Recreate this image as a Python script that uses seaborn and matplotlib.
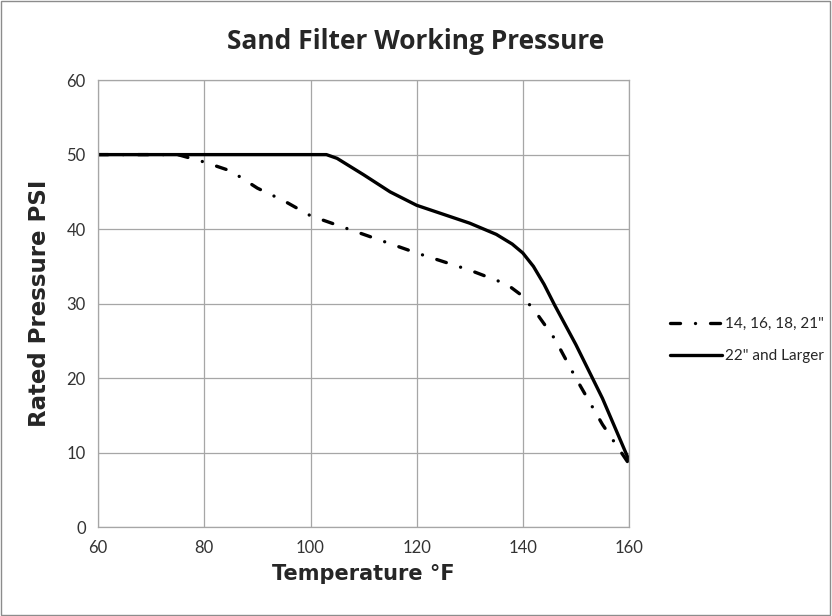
import matplotlib
matplotlib.use("Agg")
import pandas as pd
import matplotlib.pyplot as plt
import seaborn as sns
from matplotlib.patches import Rectangle

# 값은 그림에서 읽은 추정치
temp_small = [60, 70, 75, 80, 85, 90, 95, 100, 110, 120, 130, 137, 140, 143, 146, 150, 155, 160]
psi_small = [50, 50, 50, 49.0, 47.8, 45.5, 43.8, 41.8, 39.3, 36.8, 34.5, 32.6, 31.0, 28.3, 25.3, 20.0, 13.8, 8.5]

temp_large = [60, 70, 80, 90, 100, 103, 105, 110, 115, 120, 125, 130, 135, 138, 140, 142, 144, 146, 150, 155, 160]
psi_large = [50, 50, 50, 50, 50, 50, 49.5, 47.3, 45.0, 43.2, 42.0, 40.8, 39.3, 38.0, 36.8, 35.0, 32.6, 29.8, 24.5, 17.3, 9.0]

labels = ['14, 16, 18, 21"', '22" and Larger']

sns.set_style("white")
plt.rcParams["font.family"] = ["Lato", "DejaVu Sans"]

fig = plt.figure(figsize=(8.32, 6.16), dpi=100)
ax = fig.add_axes([0.118, 0.144, 0.638, 0.726])

df_small = pd.DataFrame({"temp": temp_small, "psi": psi_small})
df_large = pd.DataFrame({"temp": temp_large, "psi": psi_large})

sns.lineplot(data=df_small, x="temp", y="psi", ax=ax, color="black", lw=2.4,
             linestyle=(0, (3, 4.5, 0.01, 4.5)), label=labels[0])
sns.lineplot(data=df_large, x="temp", y="psi", ax=ax, color="black", lw=2.4,
             label=labels[1])
for ln in ax.get_lines():
    ln.set_dash_capstyle("round")

ax.set_xlim(60, 160)
ax.set_ylim(0, 60)
ax.set_xticks(range(60, 161, 20))
ax.set_yticks(range(0, 61, 10))
ax.grid(True, color="#a6a6a6", lw=0.9)
for s in ax.spines.values():
    s.set_color("#a6a6a6")
    s.set_linewidth(0.9)
ax.tick_params(colors="#404040", labelsize=12, length=0, pad=9)
for t in ax.get_xticklabels() + ax.get_yticklabels():
    t.set_color("#333333")

ax.set_xlabel("Temperature °F", family="DejaVu Sans", fontsize=15, fontweight="heavy", labelpad=6)
ax.set_ylabel("Rated Pressure PSI", family="DejaVu Sans", fontsize=16.5, fontweight="heavy", labelpad=11)

fig.suptitle("Sand Filter Working Pressure", x=0.5, y=0.955, fontsize=19,
             fontweight="bold", family=["Open Sans", "DejaVu Sans"])

h, l = ax.get_legend_handles_labels()
ax.get_legend().remove()
fig.legend(h, l, loc="center left", bbox_to_anchor=(0.789, 0.448), frameon=False,
           fontsize=11, handlelength=3.4, handletextpad=0.2, labelspacing=1.2)

fig.patches.append(Rectangle((0.001, 0.001), 0.997, 0.997, transform=fig.transFigure,
                             fill=False, edgecolor="#8c8c8c", lw=1))

fig.savefig("out.png", dpi=100)
